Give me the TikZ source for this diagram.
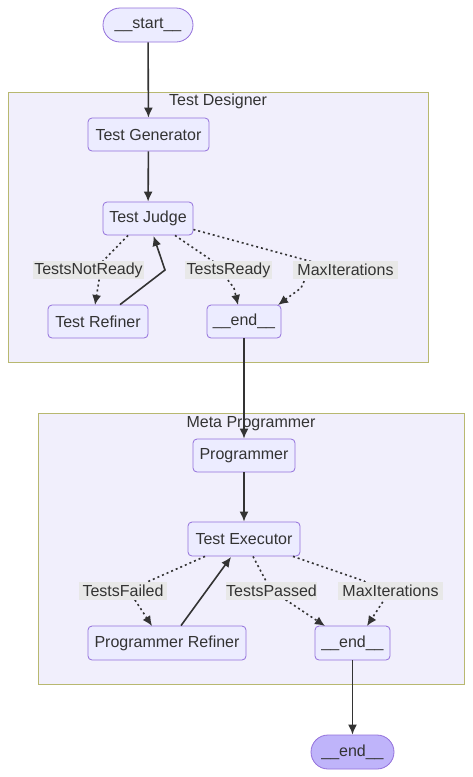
\documentclass[tikz,border=0pt]{standalone}
\usepackage{fontspec}
\setmainfont{Liberation Sans}
\usetikzlibrary{arrows.meta}
\definecolor{nodefill}{HTML}{ECECFF}
\definecolor{nodeline}{HTML}{9370DB}
\definecolor{clusterfill}{HTML}{F1EFFC}
\definecolor{clusterline}{HTML}{B8B870}
\definecolor{labelfill}{HTML}{E8E8E8}
\definecolor{endfill}{HTML}{BFB4FA}
\definecolor{ink}{HTML}{333333}
\tikzset{
  x=1pt, y=-1pt,
  every node/.style={text=ink, font=\fontsize{16}{19}\selectfont},
  box/.style={draw=nodeline, fill=nodefill, rounded corners=4pt, line width=0.8pt, inner sep=0pt},
  pill/.style={draw=nodeline, fill=nodefill, rounded corners=17pt, line width=0.8pt, inner sep=0pt},
  cluster/.style={draw=clusterline, fill=clusterfill, line width=0.8pt},
  elabel/.style={fill=labelfill, inner sep=0pt, minimum height=18pt},
  solidarrow/.style={draw=ink, line width=1.6pt, -{Latex[length=10pt,width=9pt]}},
  dotarrow/.style={draw=ink, line width=1.6pt, dash pattern=on 2pt off 3pt, -{Latex[length=10pt,width=9pt]}},
  title/.style={text=ink}
}
\begin{document}
\begin{tikzpicture}
\useasboundingbox (0,0) rectangle (472,777);
\fill[white] (0,0) rectangle (472,777);
% clusters
\draw[cluster] (8,92) rectangle (428,362);
\node[title] (t1) at (218,101.5) {Test Designer};
\draw[cluster] (38,413) rectangle (464,684);
\node[title] (t2) at (251,423.5) {Meta Programmer};
% nodes
\node[pill, minimum width=90pt, minimum height=34pt] (start) at (148,25) {\_\_start\_\_};
\node[box, minimum width=121pt, minimum height=33pt] (gen) at (148.5,134.5) {Test Generator};
\node[box, minimum width=90pt, minimum height=33pt] (judge) at (148,218.5) {Test Judge};
\node[box, minimum width=100pt, minimum height=33pt] (tref) at (98,321.5) {Test Refiner};
\node[box, minimum width=74pt, minimum height=33pt] (end1) at (244,321.5) {\_\_end\_\_};
\node[box, minimum width=102pt, minimum height=33pt] (prog) at (244,455.5) {Programmer};
\node[box, minimum width=112pt, minimum height=34pt] (exec) at (244,539) {Test Executor};
\node[box, minimum width=158pt, minimum height=34pt] (pref) at (167,643) {Programmer Refiner};
\node[box, minimum width=75pt, minimum height=34pt] (end2) at (352.5,643) {\_\_end\_\_};
\node[pill, fill=endfill, minimum width=83pt, minimum height=34pt] (fin) at (352.5,752) {\_\_end\_\_};
% bend coordinates
\coordinate (b1) at (165,270);
\coordinate (b2) at (231,557);
% edges
\draw[solidarrow] (start) -- (gen);
\draw[solidarrow] (gen) -- (judge);
\draw[dotarrow] (judge.south) ++(-20,0) -- (102,262) -- (95,305);
\draw[solidarrow] (tref.north) ++(22,0) -- (b1) -- (153.5,236);
\draw[dotarrow] (judge.south) ++(27,0) -- (214,262) -- (234,288) -- (238,305);
\draw[dotarrow] (judge.east) ++(0,11) -- (313,262) -- (301,288) -- (278,305);
\draw[solidarrow] (end1) -- (prog);
\draw[solidarrow] (prog) -- (exec);
\draw[dotarrow] (exec.south) ++(-39,0) -- (147,582) -- (135,600) -- (152,626);
\draw[solidarrow] (pref.north) ++(14,0) -- (b2);
\draw[dotarrow] (exec.south) ++(9,0) -- (266,581) -- (286,600) -- (325,626);
\draw[dotarrow] (exec.south) ++(49,0) -- (364,581) -- (384,600) -- (367,626);
\draw[solidarrow] (end2) -- (fin);
% edge labels, on top of their connectors
\node[elabel, minimum width=111pt] (l1) at (88.5,270) {TestsNotReady};
\node[elabel, minimum width=87pt] (l2) at (228.5,270) {TestsReady};
\node[elabel, minimum width=105pt] (l3) at (345.5,270) {MaxIterations};
\node[elabel, minimum width=88pt] (l4) at (123,591) {TestsFailed};
\node[elabel, minimum width=91pt] (l5) at (271.5,591) {TestsPassed};
\node[elabel, minimum width=105pt] (l6) at (390.5,591) {MaxIterations};
\end{tikzpicture}
\end{document}
